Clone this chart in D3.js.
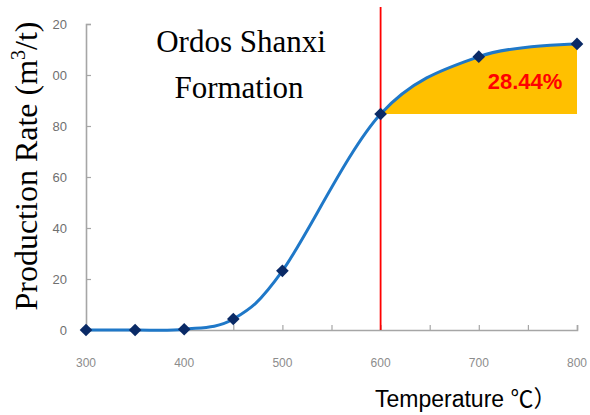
<!DOCTYPE html>
<html>
<head>
<meta charset="utf-8">
<script src="https://cdn.jsdelivr.net/npm/d3@7"></script>
<style>
  html, body { margin: 0; padding: 0; background: #fff; }
  svg { display: block; }
</style>
</head>
<body>
<svg id="chart" width="590" height="415"></svg>
<script>
// Production rate versus pyrolysis temperature
const temperatures = [300, 350, 400, 450, 500, 600, 700, 800];
const rates = [0, 0, 0.3, 4.3, 23.2, 84.7, 107.2, 112.2];

const xTicks = [300, 400, 500, 600, 700, 800];
const xMinorTicks = [350, 450, 550, 650, 750];
const yTicks = [0, 20, 40, 60, 80, 100, 120];
const yTickLabels = ["0", "20", "40", "60", "80", "00", "20"];

const cutoffTemp = 600;
const gainLabel = "28.44%";

const svg = d3.select("#chart");

const x = d3.scaleLinear().domain([300, 800]).range([86, 577]);
const y = d3.scaleLinear().domain([0, 120]).range([330, 24]);

const points = temperatures.map((t, i) => ({ t, v: rates[i] }));
const curve = d3.curveCardinal.tension(0);

// shaded gain region above the 600 °C level
const cutoffValue = rates[temperatures.indexOf(cutoffTemp)];
svg.append("clipPath").attr("id", "gainClip")
  .append("rect")
  .attr("x", x(cutoffTemp)).attr("y", 0)
  .attr("width", x(800) - x(cutoffTemp)).attr("height", y(0));

svg.append("path")
  .datum(points)
  .attr("clip-path", "url(#gainClip)")
  .attr("fill", "#FFC000")
  .attr("d", d3.area().curve(curve)
    .x(d => x(d.t)).y0(y(cutoffValue)).y1(d => y(d.v)));

// axes
const axisColor = "#a6a6a6";
const yAxis = svg.append("g").attr("transform", `translate(${x(300)},0)`)
  .call(d3.axisRight(y).tickValues(yTicks).tickSize(5).tickFormat(""));
const xAxis = svg.append("g").attr("transform", `translate(0,${y(0)})`)
  .call(d3.axisTop(x).tickValues(xTicks.concat(xMinorTicks)).tickSize(5).tickFormat(""));
[yAxis, xAxis].forEach(g => {
  g.select(".domain").attr("stroke", axisColor).attr("stroke-width", 1.6);
  g.selectAll(".tick line").attr("stroke", axisColor).attr("stroke-width", 1.2);
});

svg.append("g").selectAll("text").data(yTicks).join("text")
  .attr("x", 67).attr("y", d => y(d) + 4.5)
  .attr("text-anchor", "end")
  .attr("font-family", "Arial, 'Liberation Sans', sans-serif")
  .attr("font-size", 13).attr("fill", "#6f6f6f")
  .text((d, i) => yTickLabels[i]);

svg.append("g").selectAll("text").data(xTicks).join("text")
  .attr("x", d => x(d)).attr("y", 367)
  .attr("text-anchor", "middle")
  .attr("font-family", "Arial, 'Liberation Sans', sans-serif")
  .attr("font-size", 12).attr("fill", "#8c8c8c")
  .text(d => d);

// cutoff marker line
svg.append("line")
  .attr("x1", x(cutoffTemp)).attr("x2", x(cutoffTemp))
  .attr("y1", 7).attr("y2", y(0))
  .attr("stroke", "#ff0000").attr("stroke-width", 1.8);

// production curve
svg.append("path")
  .datum(points)
  .attr("fill", "none")
  .attr("stroke", "#1f78c8")
  .attr("stroke-width", 3)
  .attr("d", d3.line().curve(curve).x(d => x(d.t)).y(d => y(d.v)));

// diamond markers: squares turned 45 degrees
svg.append("g").selectAll("path").data(points).join("path")
  .attr("transform", d => `translate(${x(d.t)},${y(d.v)}) rotate(45)`)
  .attr("d", d3.symbol(d3.symbolSquare, 80))
  .attr("fill", "#0a2a66");

svg.append("text")
  .attr("x", 525).attr("y", 89)
  .attr("text-anchor", "middle")
  .attr("font-family", "Arial, 'Liberation Sans', sans-serif")
  .attr("font-weight", "bold").attr("font-size", 22)
  .attr("fill", "#ff0000")
  .text(gainLabel);

// titles
const serif = "'Times New Roman', 'Liberation Serif', serif";
svg.append("text").attr("x", 241).attr("y", 52)
  .attr("text-anchor", "middle").attr("font-family", serif)
  .attr("font-size", 31).attr("fill", "#000")
  .text("Ordos Shanxi");
svg.append("text").attr("x", 239).attr("y", 98)
  .attr("text-anchor", "middle").attr("font-family", serif)
  .attr("font-size", 31).attr("fill", "#000")
  .text("Formation");

const yTitle = svg.append("text")
  .attr("transform", "translate(37,166) rotate(-90)")
  .attr("text-anchor", "middle").attr("font-family", serif)
  .attr("font-size", 32).attr("fill", "#000");
yTitle.append("tspan").text("Production Rate (m");
yTitle.append("tspan").attr("dy", -12).attr("font-size", 20).text("3");
yTitle.append("tspan").attr("dy", 12).text("/t)");

const xTitle = svg.append("text").attr("x", 375).attr("y", 407)
  .attr("font-family", "Arial, 'Liberation Sans', sans-serif")
  .attr("font-size", 23).attr("fill", "#000");
xTitle.append("tspan").text("Temperature ");
xTitle.append("tspan").attr("font-family", "'Noto Sans CJK SC', sans-serif").text("℃）");
</script>
</body>
</html>
